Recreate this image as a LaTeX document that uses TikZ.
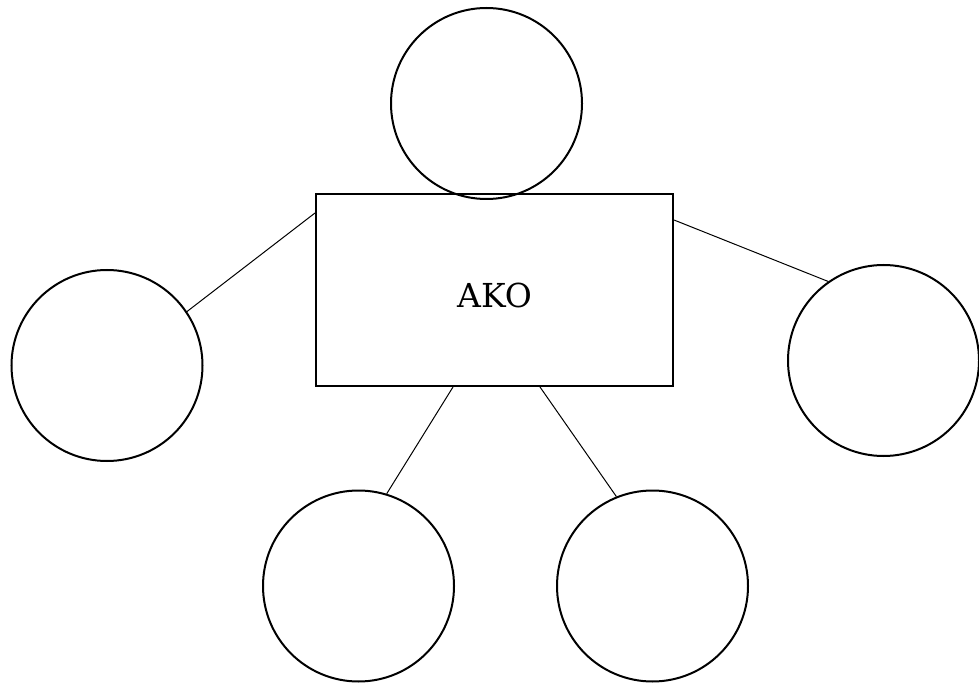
\documentclass[tikz,border=0pt]{standalone}
\usepackage{fontspec}
\setmainfont{DejaVu Serif}
\usetikzlibrary{positioning,calc}

\begin{document}
\begin{tikzpicture}[x=1pt,y=-1pt,
	round_node/.style={circle,draw,line width=2pt,minimum size=191pt,inner sep=0pt},
	box_node/.style={rectangle,draw,line width=2pt,minimum width=357pt,minimum height=192pt,font=\fontsize{33}{40}\selectfont,text height=36pt},
	link/.style={line width=1pt}]
	\useasboundingbox (0,0) rectangle (979,684);
	\node[round_node](top) at (486.5,103.5){};
	\node[box_node](ako) at (494.5,290){AKO};
	\node[round_node](left) at (107,365.5){};
	\node[round_node](right) at (883.5,360.5){};
	\node[round_node](botl) at (358.5,586){};
	\node[round_node](botr) at (652.5,586){};
	\path[every node/.style={}]
	($(ako.north west)+(0,20)$) edge[link] node {} (left.34)
	($(ako.north east)+(0,27)$) edge[link] node {} (right.125)
	($(ako.south west)+(138,0)$) edge[link] node {} (botl.73)
	($(ako.south west)+(225,0)$) edge[link] node {} (botr.112);
\end{tikzpicture}
\end{document}
